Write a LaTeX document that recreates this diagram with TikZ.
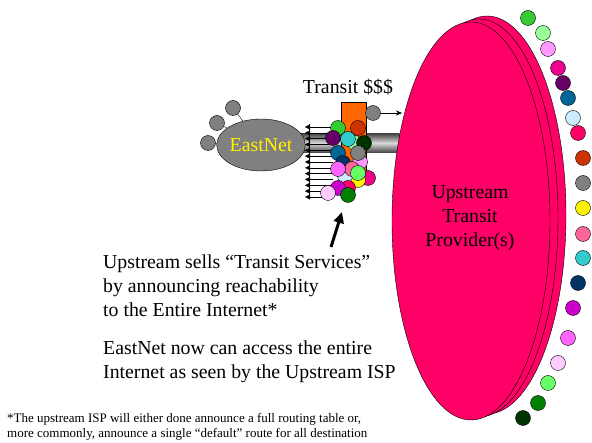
\documentclass[tikz,border=0pt]{standalone}
\usepackage{fontspec}
\setmainfont{Liberation Serif}
\usetikzlibrary{arrows.meta, positioning, shapes, calc}
\definecolor{hotpink}{RGB}{255,0,102}
\definecolor{pipeorange}{RGB}{255,102,0}
\definecolor{netgray}{RGB}{128,128,128}
\definecolor{green1}{RGB}{51,204,51}
\definecolor{lgreen}{RGB}{153,255,153}
\definecolor{lpink}{RGB}{255,153,255}
\definecolor{plum}{RGB}{102,0,102}
\definecolor{teal}{RGB}{0,102,153}
\definecolor{paleblue}{RGB}{204,236,255}
\definecolor{rust}{RGB}{204,51,0}
\definecolor{rose}{RGB}{255,102,153}
\definecolor{turq}{RGB}{51,204,204}
\definecolor{navy}{RGB}{0,51,102}
\definecolor{purple}{RGB}{204,0,204}
\definecolor{orchid}{RGB}{255,102,255}
\definecolor{blush}{RGB}{255,204,255}
\definecolor{lime}{RGB}{102,255,102}
\definecolor{green2}{RGB}{0,128,0}
\definecolor{dgreen}{RGB}{0,51,0}

\begin{document}
\begin{tikzpicture}[x=1pt,y=-1pt,
  dot/.style={circle,draw,inner sep=0pt,minimum size=15pt},
  big/.style={font=\fontsize{19.8}{24}\selectfont},
  small/.style={font=\fontsize{13}{15.5}\selectfont}]
\useasboundingbox (0,0) rectangle (592,443);

% pipe between EastNet and the upstream
\node[draw=black!70, top color=gray!60!black, bottom color=gray!60!black, middle color=gray!30, minimum width=105pt, minimum height=18pt, inner sep=0pt] (P) at (347,143) {};

% upstream provider
\node[ellipse,draw,fill=hotpink,minimum width=158pt,minimum height=398pt] (UP3) at (487,215) {};
\node[ellipse,draw,fill=hotpink,minimum width=158pt,minimum height=398pt] (UP2) at (479,218) {};
\node[ellipse,draw,fill=hotpink,minimum width=158pt,minimum height=398pt] (UP1) at (471,221) {};
\node[big,align=center] (UPl) at (470,218) {Upstream\\Transit\\Provider(s)};

% EastNet
\node[dot,fill=netgray] (g1) at (208,143) {};
\node[dot,fill=netgray] (g2) at (217,123) {};
\node[dot,fill=netgray] (g3) at (233,108) {};
\node[ellipse,draw,fill=netgray,minimum width=78pt,minimum height=52pt,inner sep=0pt,big,text=yellow] (EN) at (261,145) {EastNet};
\draw (g1) -- (EN);
\draw (g2) -- (EN);
\draw (g3) -- (EN);

% announcements
\draw (309,124) -- (309,198);
\foreach \i in {0,...,12} {
  \coordinate (cA\i) at (333,127+5.83*\i);
  \coordinate (cB\i) at (305,127+5.83*\i);
  \draw[-{Triangle[length=5pt,width=5pt]}] (cA\i) -- (cB\i);
}

\node[draw,fill=pipeorange,minimum width=25pt,minimum height=78pt,inner sep=0pt] (OR) at (353.5,141) {};
\node[big,anchor=base] (TR) at (348,94) {Transit \$\$\$};

\node[dot,fill=netgray] (GC) at (373,113) {};
\coordinate (GT) at (402,113);
\draw[-{Stealth[length=6pt,width=5pt]}] (GC) -- (GT);

% routes at the edge
\foreach \x/\y/\c [count=\n] in {358/128/rust, 338/128/green1, 355/143/lgreen, 348/139/turq, 333/138/plum,
  364/143/dgreen, 360/162/lpink, 358/153/netgray, 338/153/teal, 343/163/navy, 368/178/magenta,
  358/180/yellow, 345/176/paleblue, 352/169/rose, 358/173/lime, 338/169/orchid, 348/188/hotpink,
  338/188/purple, 328/193/blush, 348/195/green2}
  \node[dot,fill=\c] (r\n) at (\x,\y) {};

% the entire internet
\foreach \x/\y/\c [count=\n] in {528/18/green1, 543/33/lgreen, 548/49/lpink, 558/68/magenta, 563/83/plum,
  568/98/teal, 573/118/paleblue, 578/133/hotpink, 583/158/rust, 583/183/netgray, 583/208/yellow,
  583/234/rose, 583/258/turq, 578/283/navy, 573/308/purple, 568/338/orchid, 558/363/blush,
  548/383/lime, 538/403/green2, 523/418/dgreen}
  \node[dot,fill=\c] (i\n) at (\x,\y) {};

\coordinate (AT) at (331,247);
\coordinate (AH) at (342,212);
\draw[line width=3pt,-{Triangle[length=11pt,width=10pt]}] (AT) -- (AH);

\node[big,align=left,anchor=north west,inner sep=0pt] (T1) at (103,254.5) {Upstream sells “Transit Services”\\by announcing reachability\\to the Entire Internet*};
\node[big,align=left,below right=24pt and 0pt of T1.south west,inner sep=0pt] (T2) {EastNet now can access the entire\\Internet as seen by the Upstream ISP};
\node[small,align=left,anchor=north west,inner sep=0pt] (FN) at (7,413) {*The upstream ISP will either done announce a full routing table or,\\more commonly, announce a single “default” route for all destination};
\end{tikzpicture}
\end{document}
